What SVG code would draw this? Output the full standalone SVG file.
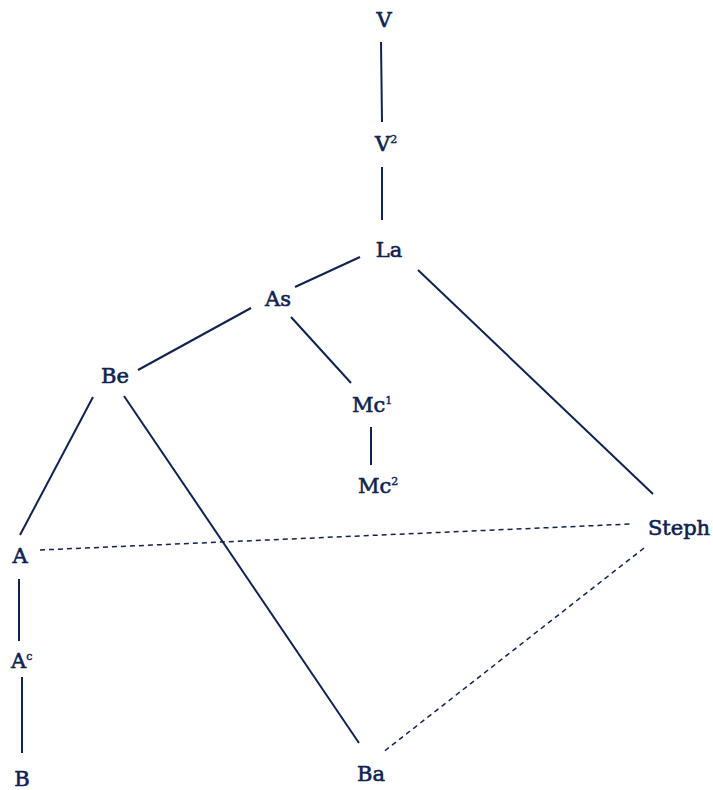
<svg xmlns="http://www.w3.org/2000/svg" width="713" height="790" viewBox="0 0 713 790">
<style>
text{font-family:"DejaVu Serif","Liberation Serif",serif;font-size:21px;fill:#0f2250;stroke:#0f2250;stroke-width:0.6;}
.sup{font-size:11px;stroke-width:0.4;}
.e{stroke:#0f2250;stroke-width:2;fill:none;}
.d{stroke:#0f2250;stroke-width:1.5;stroke-dasharray:5 4;fill:none;}
</style>
<rect width="713" height="790" fill="#fff"/>
<g id="connectors">
<line class="e" x1="381" y1="42" x2="382" y2="122"/>
<line class="e" x1="382" y1="167" x2="382" y2="220"/>
<line class="e" x1="360" y1="257" x2="295" y2="287"/>
<line class="e" x1="418" y1="270" x2="653" y2="494"/>
<line class="e" x1="251" y1="308" x2="138" y2="370"/>
<line class="e" x1="291" y1="317" x2="351" y2="383"/>
<line class="e" x1="371" y1="427" x2="371" y2="465"/>
<line class="e" x1="93" y1="397" x2="20" y2="535"/>
<line class="e" x1="124" y1="396" x2="359" y2="743"/>
<line class="e" x1="19" y1="579" x2="19" y2="641"/>
<line class="e" x1="22" y1="677" x2="22" y2="753"/>
<line class="d" x1="40" y1="550" x2="631" y2="524"/>
<line class="d" x1="644" y1="548" x2="382" y2="753"/>
</g>
<g id="V"><text x="384" y="27" text-anchor="middle">V</text></g>
<g id="V2"><text x="375" y="151">V<tspan class="sup" dy="-8">2</tspan></text></g>
<g id="La"><text x="389" y="257" text-anchor="middle">La</text></g>
<g id="As"><text x="278" y="306" text-anchor="middle">As</text></g>
<g id="Be"><text x="115" y="383" text-anchor="middle">Be</text></g>
<g id="Mc1"><text x="352" y="412">Mc<tspan class="sup" dy="-8">1</tspan></text></g>
<g id="Mc2"><text x="358" y="493">Mc<tspan class="sup" dy="-8">2</tspan></text></g>
<g id="A"><text x="20" y="563" text-anchor="middle">A</text></g>
<g id="Ac"><text x="11" y="668">A<tspan class="sup" dy="-8">c</tspan></text></g>
<g id="B"><text x="22" y="786" text-anchor="middle">B</text></g>
<g id="Steph"><text x="679" y="535" text-anchor="middle">Steph</text></g>
<g id="Ba"><text x="371" y="781" text-anchor="middle">Ba</text></g>
</svg>
